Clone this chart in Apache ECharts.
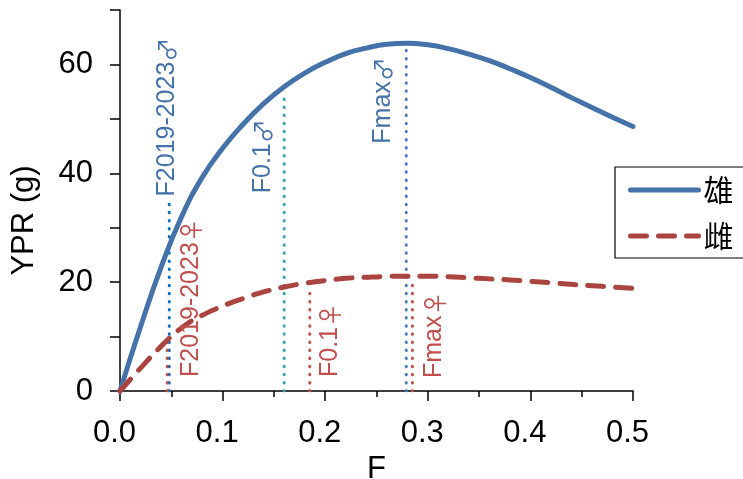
<!DOCTYPE html>
<html><head><meta charset="utf-8">
<script src="https://cdn.jsdelivr.net/npm/echarts@6/dist/echarts.min.js"></script>
<style>html,body{margin:0;padding:0;background:#fff}#c{width:743px;height:479px}</style>
</head><body><div id="c"></div>
<script>
// ---- data ----
const fValues = [0,0.02,0.04,0.06,0.08,0.10,0.12,0.14,0.16,0.18,0.20,0.22,0.24,0.26,0.28,0.30,0.32,0.34,0.36,0.38,0.40,0.42,0.44,0.46,0.48,0.50];
const yprMale = [0,11.8,22.7,32.0,39.2,44.6,49.0,52.8,55.9,58.4,60.4,62.0,63.0,63.7,63.9,63.6,62.9,61.9,60.7,59.2,57.6,55.8,53.9,52.1,50.3,48.6];
const yprFemale = [0,4.2,8.2,11.6,13.9,15.6,17.0,18.2,19.1,19.8,20.3,20.7,20.9,21.05,21.1,21.1,21.0,20.8,20.6,20.4,20.15,19.9,19.6,19.35,19.1,18.85];
const seriesNames = ['雄','雌'];
const refText = ['F2019-2023','F0.1','Fmax','F2019-2023','F0.1','Fmax'];
const refSex = ['♂','♂','♂','♀','♀','♀'];
const refF = [0.048,0.16,0.279,0.046,0.185,0.285];
const refTop = [35,54.7,64,9.7,18.5,20.3];
const xTickLabels = ['0.0','0.1','0.2','0.3','0.4','0.5'];
const yTickLabels = ['0','','20','','40','','60',''];

// ---- styles ----
const FONT = '"Liberation Sans", Arial, "DejaVu Sans", sans-serif';
const SYM_FONT = '"Noto Sans CJK JP", "Noto Sans CJK SC", "DejaVu Sans", sans-serif';
const MALE_COLOR = '#4472A9';
const FEMALE_COLOR = '#A9443F';
const refLineColors = ['#0070C0','#3E9FB8','#4A7CC2','#C0504D','#C0504D','#C0504D'];
const refLabelColors = ['#4472A9','#4472A9','#4472A9','#C0504D','#C0504D','#C0504D'];
// label placement: dx pixels from line; anchor = bottom of rotated text
const refLabelPlace = [
  {dx:-2, fromTop:-4},
  {dx:-21, fromTop:100},
  {dx:-23, fromTop:101},
  {dx:24, fromBase:-14},
  {dx:20, fromBase:-14},
  {dx:22, fromBase:-13}
];

const chart = echarts.init(document.getElementById('c'), null, {renderer:'canvas'});
const axisBlack = {color:'#000', width:1.5};

const refSeries = refText.map((n,i)=>({
  type:'line', name:'ref'+i, data:[[refF[i],0],[refF[i],refTop[i]]],
  symbol:'none', silent:true, z:1,
  lineStyle:{color:refLineColors[i], width:3, type:[0.5,7.6], cap:'round'}
}));

const option = {
  animation:false,
  backgroundColor:'#fff',
  grid:{left:120, top:10, width:513, height:381, containLabel:false, outerBoundsMode:'none'},
  xAxis:{
    type:'value', min:0, max:0.5, interval:0.1,
    name:'F', nameLocation:'middle', nameGap:51,
    nameTextStyle:{fontSize:31, color:'#000', fontFamily:FONT},
    axisLine:{lineStyle:axisBlack},
    axisTick:{length:10, lineStyle:axisBlack},
    minorTick:{show:true, splitNumber:2, length:6, lineStyle:axisBlack},
    splitLine:{show:false}, minorSplitLine:{show:false},
    axisLabel:{fontSize:31, color:'#000', fontFamily:FONT, margin:27, padding:[0,11,0,0],
      formatter:v=>xTickLabels[Math.round(v*10)]}
  },
  yAxis:{
    type:'value', min:0, max:70, interval:10,
    name:'YPR (g)', nameLocation:'middle', nameGap:80, nameRotate:90,
    nameTextStyle:{fontSize:31, color:'#000', fontFamily:FONT, padding:[0,40,0,0]},
    axisLine:{show:true, lineStyle:axisBlack},
    axisTick:{show:true, length:10, lineStyle:axisBlack},
    splitLine:{show:false},
    axisLabel:{fontSize:31, color:'#000', fontFamily:FONT, margin:27,
      formatter:v=>yTickLabels[Math.round(v/10)]}
  },
  legend:{
    data:seriesNames, orient:'vertical', left:615, top:167,
    padding:[8,40,7,13], itemGap:16, itemWidth:68, itemHeight:14,
    borderColor:'#000', borderWidth:1.2, borderRadius:0, backgroundColor:'#fff',
    itemStyle:{opacity:0, borderWidth:0},
    lineStyle:{width:5, cap:'round'},
    textStyle:{fontSize:30, color:'#000', fontFamily:'"Noto Sans CJK SC", sans-serif', lineHeight:30}
  },
  series: refSeries.concat([
    {type:'line', name:seriesNames[0], data:fValues.map((f,i)=>[f,yprMale[i]]),
     symbol:'none', smooth:0.5, z:3, clip:false,
     lineStyle:{color:MALE_COLOR, width:5, cap:'round'}, itemStyle:{color:MALE_COLOR}},
    {type:'line', name:seriesNames[1], data:fValues.map((f,i)=>[f,yprFemale[i]]),
     symbol:'none', smooth:0.5, z:3, clip:false,
     lineStyle:{color:FEMALE_COLOR, width:5, type:[16,12], cap:'round'}, itemStyle:{color:FEMALE_COLOR}}
  ])
};
chart.setOption(option);

// rotated reference labels, placed through the chart's own scales
const basePx = chart.convertToPixel({gridIndex:0},[0,0])[1];
const labels = refText.map((n,i)=>{
  const p = chart.convertToPixel({gridIndex:0},[refF[i],refTop[i]]);
  const pl = refLabelPlace[i];
  const y = pl.fromTop!==undefined ? p[1]+pl.fromTop : basePx+pl.fromBase;
  return {type:'text', x:p[0]+pl.dx, y:y, rotation:Math.PI/2, z:10,
    style:{text:'{a|'+n+'}{b|'+refSex[i]+'}', fill:refLabelColors[i],
      textAlign:'left', textVerticalAlign:'middle', align:'left', verticalAlign:'middle',
      rich:{
        a:{fontSize:25, fontFamily:FONT, fill:refLabelColors[i], color:refLabelColors[i]},
        b:{fontSize:24, fontFamily:SYM_FONT, fill:refLabelColors[i], color:refLabelColors[i]}
      }}};
});
chart.setOption({graphic:labels});
</script></body></html>
